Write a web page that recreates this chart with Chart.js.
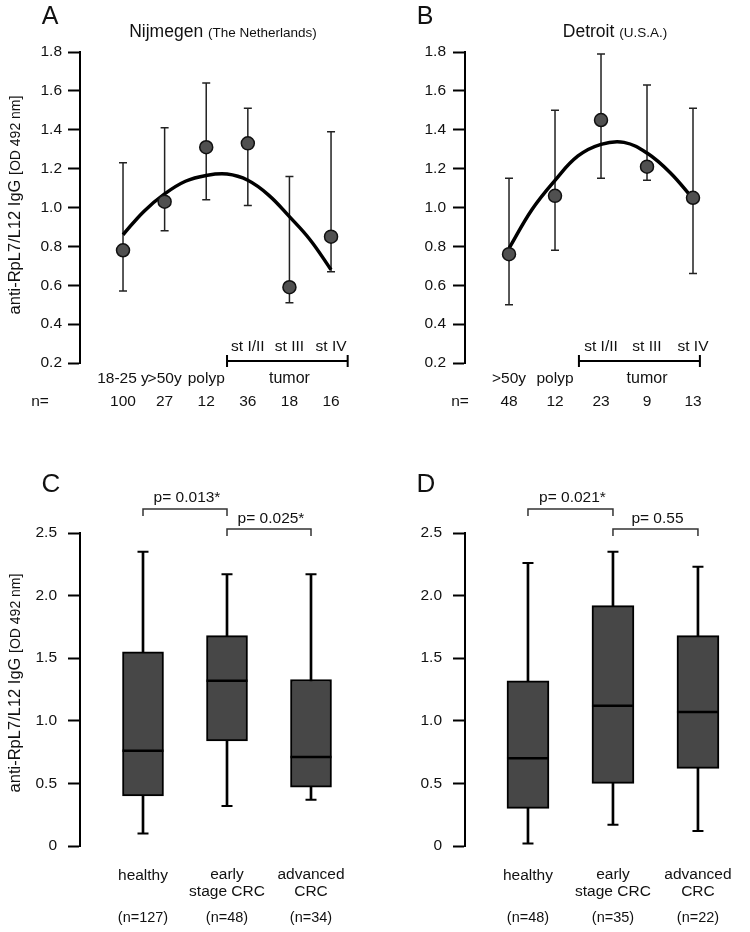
<!DOCTYPE html>
<html>
<head>
<meta charset="utf-8">
<script src="https://cdn.jsdelivr.net/npm/chart.js@4.4.1/dist/chart.umd.min.js"></script>
<style>
  html, body { margin: 0; padding: 0; background: #fff; }
  #fig { position: relative; width: 750px; height: 932px; }
  canvas { position: absolute; }
</style>
</head>
<body>
<div id="fig">
  <canvas id="chartA" width="375" height="440" style="left:0;top:0"></canvas>
  <canvas id="chartB" width="375" height="440" style="left:375px;top:0"></canvas>
  <canvas id="chartC" width="375" height="492" style="left:0;top:440px"></canvas>
  <canvas id="chartD" width="375" height="492" style="left:375px;top:440px"></canvas>
</div>
<script>
const FONT = '"Liberation Sans", Arial, Helvetica, sans-serif';

// panel A - Nijmegen
const groupsA = ['18-25 y', '>50y', 'polyp', 'st I/II', 'st III', 'st IV'];
const countsA = [100, 27, 12, 36, 18, 16];
const meansA = [0.78, 1.03, 1.31, 1.33, 0.59, 0.85];
const lowA = [0.57, 0.88, 1.04, 1.01, 0.51, 0.67];
const highA = [1.23, 1.41, 1.64, 1.51, 1.16, 1.39];
const fitPosA = [0, 0.5, 1, 1.5, 2, 2.5, 3, 3.5, 4, 4.5, 5];
const fitA = [0.86, 0.98, 1.07, 1.135, 1.165, 1.172, 1.14, 1.064, 0.953, 0.833, 0.68];

// panel B - Detroit
const groupsB = ['>50y', 'polyp', 'st I/II', 'st III', 'st IV'];
const countsB = [48, 12, 23, 9, 13];
const meansB = [0.76, 1.06, 1.45, 1.21, 1.05];
const lowB = [0.50, 0.78, 1.15, 1.14, 0.66];
const highB = [1.15, 1.50, 1.79, 1.63, 1.51];
const fitPosB = [0, 0.5, 1, 1.5, 2, 2.5, 3, 3.5, 4];
const fitB = [0.79, 0.99, 1.14, 1.265, 1.325, 1.335, 1.28, 1.18, 1.045];

const yTicksAB = [0.2, 0.4, 0.6, 0.8, 1.0, 1.2, 1.4, 1.6, 1.8];
const yTicksCD = [0, 0.5, 1.0, 1.5, 2.0, 2.5];

// panels C and D - box plots
const boxGroups = [['healthy'], ['early', 'stage CRC'], ['advanced', 'CRC']];

const countsC = [127, 48, 34];
const minC = [0.10, 0.32, 0.37];
const q1C = [0.40, 0.84, 0.47];
const medC = [0.76, 1.32, 0.71];
const q3C = [1.55, 1.68, 1.33];
const maxC = [2.35, 2.17, 2.17];
const pValuesC = ['p= 0.013*', 'p= 0.025*'];

const countsD = [48, 35, 22];
const minD = [0.02, 0.17, 0.12];
const q1D = [0.30, 0.50, 0.62];
const medD = [0.70, 1.12, 1.07];
const q3D = [1.32, 1.92, 1.68];
const maxD = [2.26, 2.35, 2.23];
const pValuesD = ['p= 0.021*', 'p= 0.55'];

function text(ctx, str, x, y, size, align) {
  ctx.font = size + 'px ' + FONT;
  ctx.fillStyle = '#111';
  ctx.textAlign = align || 'center';
  ctx.textBaseline = 'alphabetic';
  ctx.fillText(str, x, y);
}

// two-part text (big + small) centered on cx
function mixedText(ctx, big, bigSize, small, smallSize, cx, y) {
  ctx.font = bigSize + 'px ' + FONT;
  const w1 = ctx.measureText(big).width;
  ctx.font = smallSize + 'px ' + FONT;
  const w2 = ctx.measureText(small).width;
  const x0 = cx - (w1 + w2) / 2;
  text(ctx, big, x0, y, bigSize, 'left');
  text(ctx, small, x0 + w1, y, smallSize, 'left');
}

function yTitle(ctx, cx, cy) {
  ctx.save();
  ctx.translate(cx, cy);
  ctx.rotate(-Math.PI / 2);
  mixedText(ctx, 'anti-RpL7/L12 IgG ', 16.5, '[OD 492 nm]', 14, 0, 6);
  ctx.restore();
}

function yAxis(min, max, ticks, fmt, width, pad) {
  return {
    min: min, max: max,
    afterBuildTicks: s => { s.ticks = ticks.map(v => ({ value: v })); },
    ticks: { callback: fmt, font: { family: FONT, size: 15.5 }, color: '#111', padding: pad },
    grid: { drawOnChartArea: false, tickLength: 12, tickWidth: 2, tickColor: '#000' },
    border: { color: '#000', width: 2 },
    afterFit: s => { s.width = width; }
  };
}

function dotPanel(id, d) {
  const annot = {
    id: 'annot_' + id,
    beforeDatasetsDraw(chart) {
      const { ctx, scales: { x, y } } = chart;
      ctx.save();
      ctx.strokeStyle = '#222';
      ctx.lineWidth = 1.5;
      d.means.forEach((m, i) => {
        const px = x.getPixelForValue(i);
        const top = y.getPixelForValue(d.high[i]);
        const bot = y.getPixelForValue(d.low[i]);
        ctx.beginPath();
        ctx.moveTo(px, top); ctx.lineTo(px, bot);
        ctx.moveTo(px - 4, top); ctx.lineTo(px + 4, top);
        ctx.moveTo(px - 4, bot); ctx.lineTo(px + 4, bot);
        ctx.stroke();
      });
      ctx.restore();
    },
    afterDraw(chart) {
      const { ctx, scales: { x } } = chart;
      ctx.save();
      text(ctx, d.letter, 50, 24, 25);
      mixedText(ctx, d.title, 17.5, d.subtitle, 13.5, d.titleX, 37);
      if (d.yTitle) yTitle(ctx, 14, 205);
      d.groups.forEach((g, i) => {
        const px = x.getPixelForValue(i);
        if (i < d.firstTumor) text(ctx, g, px, 383, 15.5);
        else text(ctx, g, px, 351, 15.5);
        text(ctx, String(d.counts[i]), px, 406, 15.5);
      });
      text(ctx, 'n=', d.nX, 406, 15.5);
      // tumor bracket
      const b0 = x.getPixelForValue(d.bracket[0]);
      const b1 = x.getPixelForValue(d.bracket[1]);
      ctx.strokeStyle = '#000';
      ctx.lineWidth = 2;
      ctx.beginPath();
      ctx.moveTo(b0, 361); ctx.lineTo(b1, 361);
      ctx.moveTo(b0, 355); ctx.lineTo(b0, 367);
      ctx.moveTo(b1, 355); ctx.lineTo(b1, 367);
      ctx.stroke();
      text(ctx, 'tumor', x.getPixelForValue(d.firstTumor + 1), 383, 16);
      ctx.restore();
    }
  };

  new Chart(document.getElementById(id), {
    type: 'scatter',
    data: {
      datasets: [
        {
          type: 'line',
          data: d.fitPos.map((p, i) => ({ x: p, y: d.fit[i] })),
          borderColor: '#000', borderWidth: 3.5, pointRadius: 0,
          tension: 0.4, fill: false, order: 2
        },
        {
          data: d.means.map((m, i) => ({ x: i, y: m })),
          pointRadius: 6.5, pointBackgroundColor: '#505050',
          pointBorderColor: '#111', pointBorderWidth: 1.5, order: 1
        }
      ]
    },
    options: {
      responsive: false, animation: false, events: [],
      layout: { padding: { top: 52, bottom: 77, left: 0, right: d.padRight } },
      plugins: { legend: { display: false }, tooltip: { enabled: false } },
      scales: {
        x: { type: 'linear', min: d.xMin, max: d.xMax, display: false },
        y: yAxis(0.2, 1.8, yTicksAB, v => v.toFixed(1), d.axisX, d.tickPad)
      }
    },
    plugins: [annot]
  });
}

function boxPanel(id, d) {
  const annot = {
    id: 'annot_' + id,
    afterDatasetsDraw(chart) {
      const { ctx, scales: { x, y } } = chart;
      ctx.save();
      ctx.strokeStyle = '#000';
      d.med.forEach((m, i) => {
        const px = x.getPixelForValue(i);
        ctx.lineWidth = 2;
        ctx.beginPath();
        ctx.moveTo(px - 5.5, y.getPixelForValue(d.max[i])); ctx.lineTo(px + 5.5, y.getPixelForValue(d.max[i]));
        ctx.moveTo(px - 5.5, y.getPixelForValue(d.min[i])); ctx.lineTo(px + 5.5, y.getPixelForValue(d.min[i]));
        ctx.stroke();
        ctx.lineWidth = 2.5;
        ctx.beginPath();
        ctx.moveTo(px - d.boxW / 2, y.getPixelForValue(m));
        ctx.lineTo(px + d.boxW / 2, y.getPixelForValue(m));
        ctx.stroke();
      });
      ctx.restore();
    },
    afterDraw(chart) {
      const { ctx, scales: { x } } = chart;
      ctx.save();
      text(ctx, d.letter, 51, 52, 26);
      if (d.yTitle) yTitle(ctx, 14, 243);
      d.groups.forEach((lines, i) => {
        const px = x.getPixelForValue(i);
        if (lines.length === 1) text(ctx, lines[0], px, 440, 15.5);
        else { text(ctx, lines[0], px, 439, 15.5); text(ctx, lines[1], px, 456, 15.5); }
        text(ctx, '(n=' + d.counts[i] + ')', px, 482, 14.5);
      });
      // significance brackets
      ctx.strokeStyle = '#333';
      ctx.lineWidth = 1.5;
      [[0, 1, 69, 62], [1, 2, 89, 83]].forEach((b, k) => {
        const a = x.getPixelForValue(b[0]), c = x.getPixelForValue(b[1]);
        ctx.beginPath();
        ctx.moveTo(a, b[2] + 7); ctx.lineTo(a, b[2]); ctx.lineTo(c, b[2]); ctx.lineTo(c, b[2] + 7);
        ctx.stroke();
        text(ctx, d.pValues[k], (a + c) / 2 + 2, b[3], 15.5);
      });
      ctx.restore();
    }
  };

  new Chart(document.getElementById(id), {
    type: 'bar',
    data: {
      datasets: [
        {
          data: d.min.map((v, i) => ({ x: i, y: [v, d.max[i]] })),
          backgroundColor: '#000', borderWidth: 0, barThickness: 2,
          grouped: false, order: 2
        },
        {
          data: d.q1.map((v, i) => ({ x: i, y: [v, d.q3[i]] })),
          backgroundColor: '#474747', borderColor: '#000', borderWidth: 2,
          borderSkipped: false, barThickness: d.boxW, grouped: false, order: 1
        }
      ]
    },
    options: {
      responsive: false, animation: false, events: [],
      layout: { padding: { top: 93, bottom: 86, left: 0, right: d.padRight } },
      plugins: { legend: { display: false }, tooltip: { enabled: false } },
      scales: {
        x: { type: 'linear', min: d.xMin, max: d.xMax, offset: false, display: false },
        y: yAxis(0, 2.5, yTicksCD, v => (v === 0 ? '0' : v.toFixed(1)), d.axisX, 11)
      }
    },
    plugins: [annot]
  });
}

dotPanel('chartA', {
  letter: 'A', title: 'Nijmegen ', subtitle: '(The Netherlands)', titleX: 223, yTitle: true,
  groups: groupsA, counts: countsA, means: meansA, low: lowA, high: highA,
  fitPos: fitPosA, fit: fitA, firstTumor: 3, bracket: [2.5, 5.4], nX: 40,
  xMin: -1.034, xMax: 5.6, axisX: 80, padRight: 19, tickPad: 6
});

dotPanel('chartB', {
  letter: 'B', title: 'Detroit ', subtitle: '(U.S.A.)', titleX: 240, yTitle: false,
  groups: groupsB, counts: countsB, means: meansB, low: lowB, high: highB,
  fitPos: fitPosB, fit: fitB, firstTumor: 2, bracket: [1.52, 4.15], nX: 85,
  xMin: -0.957, xMax: 4.6, axisX: 90, padRight: 29.4, tickPad: 7
});

boxPanel('chartC', {
  letter: 'C', yTitle: true, groups: boxGroups, counts: countsC,
  min: minC, q1: q1C, med: medC, q3: q3C, max: maxC, pValues: pValuesC,
  boxW: 41, xMin: -0.75, xMax: 2.6, axisX: 80, padRight: 13.6
});

boxPanel('chartD', {
  letter: 'D', yTitle: false, groups: boxGroups, counts: countsD,
  min: minD, q1: q1D, med: medD, q3: q3D, max: maxD, pValues: pValuesD,
  boxW: 42, xMin: -0.741, xMax: 2.55, axisX: 90, padRight: 5.3
});
</script>
</body>
</html>
